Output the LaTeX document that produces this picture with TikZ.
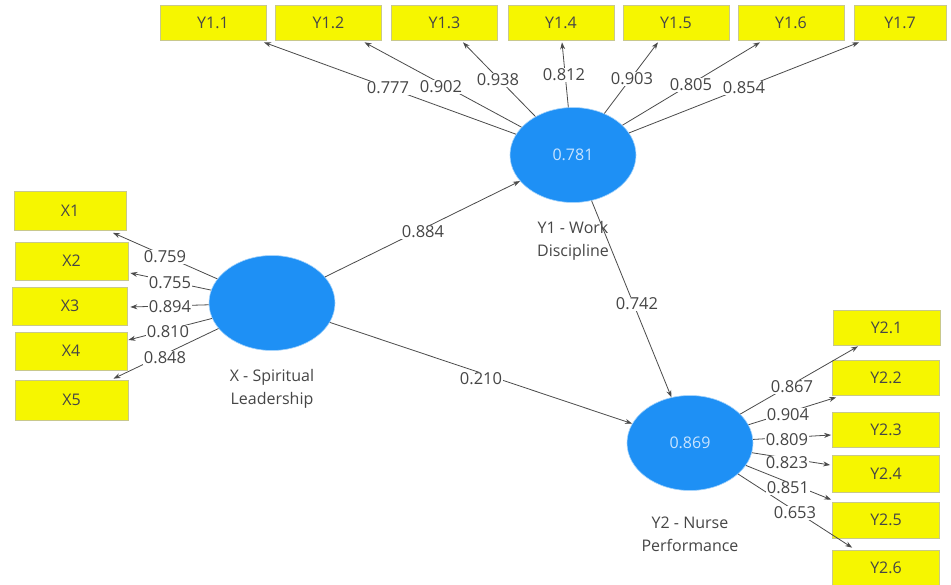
\documentclass[tikz,border=0pt]{standalone}
\usepackage{fontspec}
\setmainfont{Open Sans}
\usetikzlibrary{arrows.meta,shapes.geometric}
\definecolor{boxy}{RGB}{246,246,0}
\definecolor{boxb}{RGB}{200,200,140}
\definecolor{lvcol}{RGB}{30,144,245}
\definecolor{lvtxt}{RGB}{200,228,255}
\definecolor{txt}{RGB}{70,70,70}
\definecolor{ln}{RGB}{75,75,75}
\begin{document}
\begin{tikzpicture}[x=1pt,y=-1pt,
  ind/.style={draw=boxb, fill=boxy, line width=0.7pt, minimum width=106pt, minimum height=35pt, inner sep=0pt, font=\fontsize{16}{18}\selectfont, text=txt},
  lat/.style={ellipse, fill=lvcol, draw=lvcol!40!white, line width=0.6pt, minimum width=126pt, minimum height=95pt, inner sep=0pt, font=\fontsize{16}{18}\selectfont, text=lvtxt},
  con/.style={draw=ln, line width=0.8pt, -{Stealth[length=7pt,width=5pt]}},
  lbl/.style={fill=white, inner sep=1pt, font=\fontsize{16.5}{18}\selectfont, text=txt},
  capt/.style={align=center, font=\fontsize{16}{23}\selectfont, text=txt}
]
\useasboundingbox[fill=white] (0,0) rectangle (951,585);

% latent variables
\node[lat] (Y1) at (573,155) {0.781};
\node[lat] (X) at (272,303) {};
\node[lat] (Y2) at (690,443) {0.869};
\node[capt] (cY1) at (573,241) {Y1 - Work\\Discipline};
\node[capt] (cX) at (272,389) {X - Spiritual\\Leadership};
\node[capt] (cY2) at (690,534) {Y2 - Nurse\\Performance};

% Y1 indicators
\node[ind] (y11) at (213,22.5) {Y1.1};
\node[ind] (y12) at (328.5,22.5) {Y1.2};
\node[ind] (y13) at (444.5,22.5) {Y1.3};
\node[ind] (y14) at (561,22.5) {Y1.4};
\node[ind] (y15) at (676,22.5) {Y1.5};
\node[ind] (y16) at (791,22.5) {Y1.6};
\node[ind, minimum width=92pt] (y17) at (900,22.5) {Y1.7};

% X indicators
\node[ind, minimum width=112pt, minimum height=39pt] (x1) at (70,211) {X1};
\node[ind, minimum width=113pt, minimum height=38pt] (x2) at (71.5,261) {X2};
\node[ind, minimum width=115pt, minimum height=38pt] (x3) at (70,306) {X3};
\node[ind, minimum width=112pt, minimum height=38pt] (x4) at (71,351) {X4};
\node[ind, minimum width=113pt, minimum height=40pt] (x5) at (71.5,400) {X5};

% Y2 indicators
\node[ind, minimum width=107pt] (y21) at (886.5,327.5) {Y2.1};
\node[ind, minimum width=107pt] (y22) at (886,378) {Y2.2};
\node[ind, minimum width=107pt] (y23) at (886,430) {Y2.3};
\node[ind, minimum width=107pt, minimum height=37pt] (y24) at (886,473.5) {Y2.4};
\node[ind, minimum width=107pt, minimum height=36pt] (y25) at (886,520) {Y2.5};
\node[ind, minimum width=107pt] (y26) at (886,567.5) {Y2.6};

% outer loadings Y1
\draw[con] (Y1) -- ([xshift=51pt,yshift=-2pt]y11.south);
\draw[con] (Y1) -- ([xshift=36pt,yshift=-2pt]y12.south);
\draw[con] (Y1) -- ([xshift=18.5pt,yshift=-2pt]y13.south);
\draw[con] (Y1) -- ([xshift=1pt,yshift=-2pt]y14.south);
\draw[con] (Y1) -- ([xshift=-18pt,yshift=-2pt]y15.south);
\draw[con] (Y1) -- ([xshift=-31pt,yshift=-2pt]y16.south);
\draw[con] (Y1) -- ([xshift=-41pt,yshift=-2pt]y17.south);

% outer loadings X
\draw[con] (X) -- ([xshift=43pt,yshift=-2pt]x1.south);
\draw[con] (X) -- ([xshift=2pt,yshift=-12pt]x2.east);
\draw[con] (X) -- ([xshift=2.5pt,yshift=-1pt]x3.east);
\draw[con] (X) -- ([xshift=1pt,yshift=11pt]x4.east);
\draw[con] (X) -- ([xshift=42pt,yshift=1pt]x5.north);

% outer loadings Y2
\draw[con] (Y2) -- ([xshift=-28.5pt,yshift=-1pt]y21.south);
\draw[con] (Y2) -- ([xshift=4pt,yshift=-1.5pt]y22.south west);
\draw[con] (Y2) -- ([xshift=-1pt,yshift=-5pt]y23.west);
\draw[con] (Y2) -- ([xshift=-2pt,yshift=8.5pt]y24.west);
\draw[con] (Y2) -- ([xshift=-1pt,yshift=2pt]y25.north west);
\draw[con] (Y2) -- ([xshift=20pt,yshift=2pt]y26.north west);

% structural paths
\draw[con] (X) -- (Y1);
\draw[con] (X) -- (Y2);
\draw[con] (Y1) -- (Y2);

% labels
\node[lbl] (l11) at (388,88) {0.777};
\node[lbl] (l12) at (441,87) {0.902};
\node[lbl] (l13) at (498,80) {0.938};
\node[lbl] (l14) at (564,75) {0.812};
\node[lbl] (l15) at (632,79) {0.903};
\node[lbl] (l16) at (691,85) {0.805};
\node[lbl] (l17) at (744,88) {0.854};

\node[lbl] (lx1) at (165,257) {0.759};
\node[lbl] (lx2) at (170,283) {0.755};
\node[lbl] (lx3) at (170,307) {0.894};
\node[lbl] (lx4) at (168,332) {0.810};
\node[lbl] (lx5) at (165,358) {0.848};

\node[lbl] (l21) at (792,387) {0.867};
\node[lbl] (l22) at (788,415) {0.904};
\node[lbl] (l23) at (787,440) {0.809};
\node[lbl] (l24) at (787,463) {0.823};
\node[lbl] (l25) at (788,488) {0.851};
\node[lbl] (l26) at (795,513) {0.653};

\node[lbl] (lxy1) at (423,232) {0.884};
\node[lbl] (lxy2) at (481,379) {0.210};
\node[lbl] (ly1y2) at (637,304) {0.742};
\end{tikzpicture}
\end{document}
